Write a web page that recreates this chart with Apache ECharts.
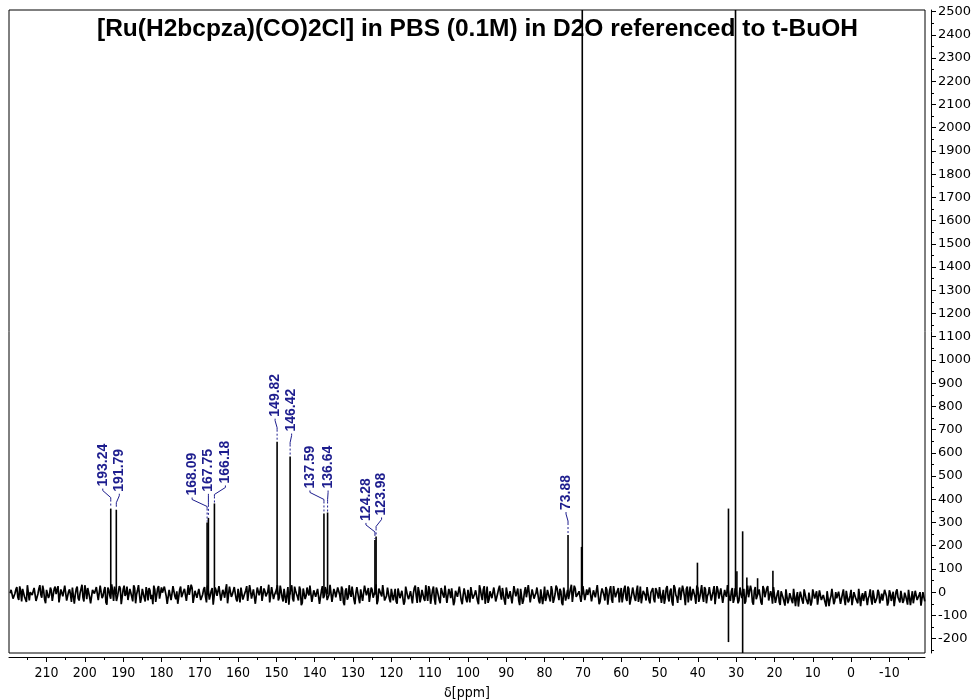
<!DOCTYPE html>
<html><head><meta charset="utf-8">
<script src="https://cdn.jsdelivr.net/npm/echarts@6/dist/echarts.min.js"></script>
<style>html,body{margin:0;padding:0;background:#fff}#c{width:972px;height:700px}</style>
</head><body><div id="c"></div>
<script>
const titleText = '[Ru(H2bcpza)(CO)2Cl] in PBS (0.1M) in D2O referenced to t-BuOH';
const xTickLabels = [210,200,190,180,170,160,150,140,130,120,110,100,90,80,70,60,50,40,30,20,10,0,-10];
const xMinorTicks = [215,205,195,185,175,165,155,145,135,125,115,105,95,85,75,65,55,45,35,25,15,5,-5,-15];
const yTickLabels = [-200,-100,0,100,200,300,400,500,600,700,800,900,1000,1100,1200,1300,1400,1500,1600,1700,1800,1900,2000,2100,2200,2300,2400,2500];
const yMinorTicks = [-250,-150,-50,50,150,250,350,450,550,650,750,850,950,1050,1150,1250,1350,1450,1550,1650,1750,1850,1950,2050,2150,2250,2350,2450];

// baseline noise: samples at 219.5, 219.0, ... ppm (noiseA) and at 219.25, 218.75, ... ppm (noiseB)
const noiseStart = 219.5, noiseStep = 0.5;
const noiseA = [
-5,18,-30,12,-22,25,-40,8,-15,30,-35,5,-20,22,-45,15,-10,28,-32,10,
-25,20,-38,14,-8,26,-50,6,-18,32,-28,12,-42,18,-12,24,-36,4,-22,30,
-30,16,-48,10,-6,22,-34,28,-26,8,-44,20,-14,34,-38,2,-20,26,-52,12,
-16,24,-30,6,-40,18,-10,30,-46,14,-24,22,-36,8,-12,28,-42,16,-28,20,
-8,32,-50,10,-34,26,-18,4,-44,24,-22,14,-38,30,-14,18,-48,8,-26,22,
-40,12,-20,28,-32,6,-54,20,-16,26,-36,10,-24,34,-46,16,-10,22,-30,14,
-44,24,-18,8,-38,30,-28,12,-50,20,-14,26,-34,4,-22,32,-42,18,-12,10,
-36,28,-24,14,-46,22,-8,30,-40,6,-20,24,-56,16,-30,20,-14,28,-38,12,
-26,18,-48,26,-16,8,-34,32,-42,14,-22,20,-10,24,-44,6,-32,30,-20,16,
-52,22,-28,12,-38,28,-14,18,-46,10,-24,34,-36,8,-18,26,-40,20,-30,14,
-35,14,-50,20,-22,8,-40,26,-30,4,-48,18,-16,22,-44,10,-28,30,-38,12,
-20,24,-54,6,-34,18,-12,28,-46,14,-26,20,-40,2,-18,26,-52,16,-30,10,
-44,22,-24,8,-38,30,-16,12,-50,24,-32,6,-20,28,-42,14,-10,18,-36,20,
-28,4,-48,26,-18,16,-56,10,-34,22,-24,30,-44,8,-14,20,-38,12,-52,24,
-22,18,-40,6,-30,28,-12,14,-46,20,-36,10,-26,32,-50,16,-20,4,-42,26,
-34,12,-18,24,-48,8,-28,30,-40,16,-14,22,-54,10,-32,26,-22,6,-44,18,
-16,28,-38,14,-50,20,-26,4,-42,24,-20,12,-36,30,-48,8,-30,18,-12,22,
-46,10,-28,26,-40,16,-58,20,-22,6,-34,28,-18,14,-44,24,-32,8,-50,18,
-24,30,-42,12,-16,22,-36,4,-52,26,-28,16,-46,10,-20,24,-38,18,-30,6,
-48,20,-26,14,-40,28,-18,8,-54,22,-32,12,-44,26,-22,16,-36,4,-50,18,
-40,8,-55,2,-30,12,-48,-4,-36,14,-60,0,-26,10,-50,6,-34,-2,-58,12,
-28,4,-46,10,-38,-6,-62,8,-32,14,-52,0,-24,6,-44,12,-56,-2,-34,10,
-50,4,-30,14,-60,-4,-40,8,-26,12,-54,2,-36,10,-48,-6,-32,6,-58,8,
-38,2,-52,12,-28,6,-46,-2,-34,10,-56,4,-42,8,-30,0,-50,6
];
const noiseB = [
10,-28,-6,22,-34,4,14,-20,-42,26,0,-12,18,-38,-8,30,-24,6,-48,16,
-14,8,-30,24,-2,-44,12,-18,28,-36,2,-10,20,-50,14,-26,-4,32,-40,6,
18,-22,-46,12,-8,26,-32,0,-16,22,-54,10,-28,4,24,-38,-12,16,-44,28,
-6,-34,14,-20,30,-48,8,-10,-26,20,-40,2,18,-30,-52,12,-14,26,-36,-2,
24,-18,-42,16,-6,28,-30,-50,10,-22,4,20,-38,-12,32,-46,6,-24,14,-34,
-10,22,-44,2,-28,18,-56,8,-16,30,-36,-4,12,-48,24,-20,-8,16,-40,10,
20,-32,-14,26,-46,6,-22,12,-52,28,-6,-38,16,-18,2,-44,22,-30,-10,30,
-24,4,-40,18,-12,-54,14,-28,24,-8,-36,10,-46,20,-16,-2,28,-42,8,-20,
14,-50,6,-26,22,-34,-10,30,-44,0,-18,26,-38,12,-56,16,-22,-6,24,-32,
-4,18,-48,10,-30,28,-14,-42,20,-24,4,-52,16,-8,30,-36,-16,12,-44,22,
-12,-40,16,-26,6,-54,24,-18,-34,12,-6,28,-46,2,-22,18,-38,-10,26,-50,
8,-30,20,-14,-48,10,-24,30,-40,-2,16,-56,6,-20,24,-36,-12,14,-44,2,
22,-28,-8,16,-52,12,-34,26,-18,-46,4,-26,20,-40,-6,28,-32,10,-54,18,
-16,6,-42,24,-10,-36,14,-50,2,-22,30,-44,12,-28,-4,20,-48,16,-18,-38,
10,-24,26,-46,-8,18,-34,4,-56,22,-14,-30,14,-42,28,-20,-6,12,-50,24,
-28,-12,20,-40,8,-22,30,-52,-4,16,-36,10,-18,26,-46,2,-30,18,-10,-44,
14,-26,24,-54,-8,12,-38,28,-20,-48,6,-14,22,-34,-2,18,-44,8,-28,26,
-16,-50,16,-24,4,-40,30,-12,-46,20,-30,10,-56,24,-8,-36,14,-20,28,-42,
2,-18,22,-48,-6,14,-32,26,-52,8,-24,18,-40,-10,30,-28,4,-46,16,-14,
-36,24,-8,-50,12,-22,28,-42,6,-30,-4,20,-54,14,-16,26,-38,-12,22,-46,
-6,-42,4,-24,-58,10,-32,-10,-48,8,-20,-62,2,-36,12,-28,-52,-2,-40,6,
-22,-54,8,-34,-12,-46,4,-60,-18,10,-38,-26,2,-50,-8,-30,6,-44,-14,-56,
0,-28,-48,10,-20,-38,4,-56,-14,-32,8,-46,-24,-2,-52,-36,10,-18,-42,-6,
-30,-60,2,-22,-44,8,-36,-16,-54,4,-26,-48,6,-34,-12,-58,0,-40
];

// labelled peaks
const peakPpm    = [193.24,191.79,168.09,167.75,166.18,149.82,146.42,137.59,136.64,124.28,123.98,73.88];
const peakHeight = [360,355,300,320,382,648,584,339,343,225,240,246];
const peakBase = -10;

// unlabelled lines (solvent / reference), low and high ends
const otherPpm  = [70.16,70.35,40.1,32.0,30.16,29.8,28.3,27.2,24.4,20.4];
const otherLow  = [-10,-10,-10,-215,-20,-10,-400,-10,-10,-10];
const otherHigh = [3000,195,127,360,3000,90,262,63,60,92];

// label layout in pixels: horizontal shift of label from its peak, gap between label and peak top
const labelDx  = [-8,3,-15,0,11,-2,1.5,-14,0.5,-9,5.5,-2];
const labelGap = [22,18,27,26,20,25,25,25,24,19,21,25];

const NAVY = '#1e1e8e';
const noiseData = [];
noiseA.forEach((v, i) => {
  noiseData.push([noiseStart - i * noiseStep, v]);
  if (i < noiseB.length) noiseData.push([noiseStart - noiseStep / 2 - i * noiseStep, noiseB[i]]);
});
const peakLines = peakPpm.map((p, i) => [p, peakBase, peakHeight[i]]).concat(
  otherPpm.map((p, i) => [p, otherLow[i], otherHigh[i]]));
const labelData = peakPpm.map((p, i) => [p, peakHeight[i]]);

const X_MIN = -19.3, X_MAX = 219.8, Y_MIN = -262, Y_MAX = 2507;
const axisFontX = '"DejaVu Sans Condensed","DejaVu Sans",sans-serif';
const axisFontY = '"DejaVu Sans",Verdana,sans-serif';

const chart = echarts.init(document.getElementById('c'), null, {renderer: 'canvas'});
chart.setOption({
  animation: false,
  backgroundColor: '#fff',
  title: {
    text: titleText, left: 97, top: 17, padding: 0,
    textStyle: {fontSize: 24.5, fontWeight: 'bold', color: '#000', fontFamily: '"Liberation Sans",Arial,sans-serif'}
  },
  grid: {left: 9, right: 47, top: 10, bottom: 47, show: true, borderColor: '#000', borderWidth: 1,
    containLabel: false, outerBoundsMode: 'none'},
  xAxis: [{
    type: 'value', inverse: true, min: X_MIN, max: X_MAX, position: 'bottom', offset: 4,
    axisLine: {show: true, onZero: false, lineStyle: {color: '#000', width: 1}},
    axisTick: {show: true, customValues: xTickLabels, length: 5, lineStyle: {color: '#000'}},
    axisLabel: {show: true, customValues: xTickLabels, margin: 9, fontSize: 14, color: '#000', fontFamily: axisFontX},
    splitLine: {show: false},
    name: 'δ[ppm]', nameLocation: 'middle', nameGap: 29,
    nameTextStyle: {fontSize: 14, color: '#000', fontFamily: axisFontX}
  }, {
    type: 'value', inverse: true, min: X_MIN, max: X_MAX, position: 'bottom', offset: 4,
    axisLine: {show: false, onZero: false},
    axisTick: {show: true, customValues: xMinorTicks, length: 3, lineStyle: {color: '#000'}},
    axisLabel: {show: false}, splitLine: {show: false}
  }],
  yAxis: [{
    type: 'value', min: Y_MIN, max: Y_MAX, position: 'right', offset: 6,
    axisLine: {show: true, onZero: false, lineStyle: {color: '#000', width: 1}},
    axisTick: {show: true, customValues: yTickLabels, length: 5, lineStyle: {color: '#000'}},
    axisLabel: {show: true, customValues: yTickLabels, margin: 7, fontSize: 13, color: '#000', fontFamily: axisFontY,
      formatter: v => String(v)},
    splitLine: {show: false}
  }, {
    type: 'value', min: Y_MIN, max: Y_MAX, position: 'right', offset: 6,
    axisLine: {show: false, onZero: false},
    axisTick: {show: true, customValues: yMinorTicks, length: 3, lineStyle: {color: '#000'}},
    axisLabel: {show: false}, splitLine: {show: false}
  }],
  series: [{
    type: 'line', data: noiseData, showSymbol: false, symbol: 'none', sampling: null,
    lineStyle: {color: '#000', width: 1.7}, clip: true, z: 2
  }, {
    type: 'custom', data: peakLines, clip: true, z: 3,
    encode: {x: 0, y: [1, 2]},
    renderItem(params, api) {
      const cs = params.coordSys;
      const a = api.coord([api.value(0), api.value(1)]);
      const b = api.coord([api.value(0), api.value(2)]);
      const clampY = y => Math.min(Math.max(y, cs.y), cs.y + cs.height);
      return {type: 'line', shape: {x1: a[0], y1: clampY(a[1]), x2: a[0], y2: clampY(b[1])},
        style: {stroke: '#000', lineWidth: 1.6}};
    }
  }, {
    type: 'custom', data: labelData, z: 4,
    encode: {x: 0, y: 1},
    renderItem(params, api) {
      const i = params.dataIndex;
      const top = api.coord([api.value(0), api.value(1)]);
      const px = top[0], py = top[1];
      const lx = px + labelDx[i];
      const ly = py - labelGap[i];
      const txt = api.value(0).toFixed(2);
      return {type: 'group', children: [
        {type: 'line', shape: {x1: px, y1: ly + 13, x2: px, y2: py - 1},
          style: {stroke: NAVY, lineWidth: 1, lineDash: [2, 2]}},
        {type: 'polyline', shape: {points: [[lx, ly + 2], [lx, ly + 4], [px, ly + 11], [px, ly + 13]]},
          style: {stroke: NAVY, lineWidth: 1, fill: null}},
        {type: 'text', x: lx, y: ly, rotation: Math.PI / 2,
          style: {text: txt, fill: NAVY, font: 'bold 14px "Liberation Sans",Arial,sans-serif',
            align: 'left', verticalAlign: 'middle', textAlign: 'left', textVerticalAlign: 'middle'}}
      ]};
    }
  }]
});
</script></body></html>
